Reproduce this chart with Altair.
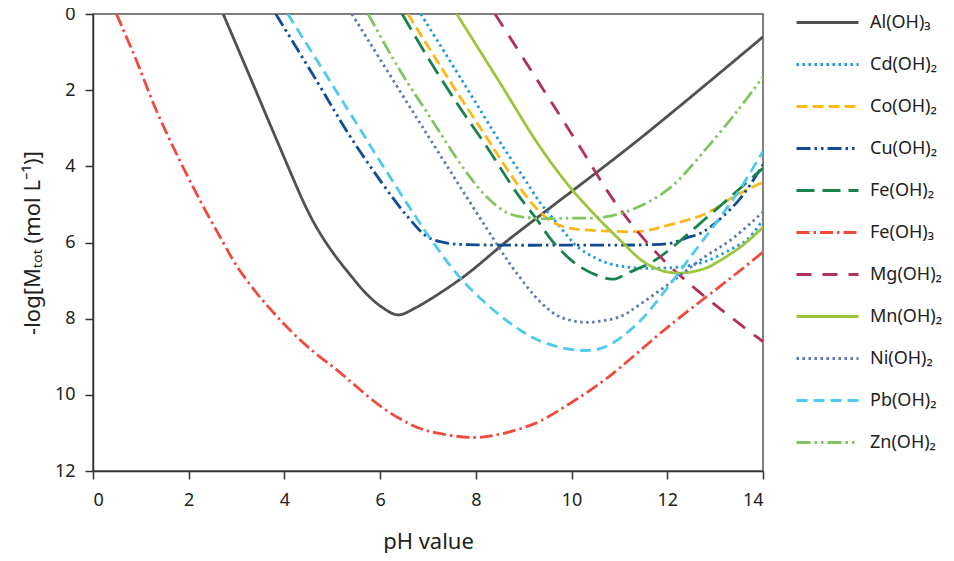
import altair as alt
import pandas as pd

SERIES = ["Al(OH)₃", "Cd(OH)₂", "Co(OH)₂", "Cu(OH)₂", "Fe(OH)₂", "Fe(OH)₃",
          "Mg(OH)₂", "Mn(OH)₂", "Ni(OH)₂", "Pb(OH)₂", "Zn(OH)₂"]
COLORS = ["#505050", "#1f9ad8", "#fbb918", "#0f4c92", "#17834b", "#ef4a3c",
          "#b0305f", "#9cc53b", "#5b79b6", "#4ec9ef", "#7fc65f"]
DASHES = [[1, 0], [2.5, 3.5], [11, 5], [14, 4, 2.5, 4, 2.5, 4], [18, 8], [13, 4, 2.5, 4],
          [15, 11], [1, 0], [2.5, 3.5], [11, 6], [14, 4, 2.5, 4, 2.5, 4]]

AL_PH = [2.72, 3.28, 3.87, 4.46, 4.74, 5.05, 5.33, 5.7, 6.04, 6.37, 6.73, 7.71, 8.68, 9.3, 11.39, 14]
AL_Y = [0, 1.65, 3.4, 5.1, 5.75, 6.33, 6.78, 7.33, 7.7, 7.9, 7.72, 6.93, 5.93, 5.33, 3.31, 0.6]

CD_PH = [6.85, 7.7, 8.57, 9.0, 9.34, 9.6, 9.93, 10.13, 10.7, 11.2, 11.64, 12.33, 12.79, 13.3, 13.69, 14]
CD_Y = [0, 1.72, 3.49, 4.3, 4.95, 5.35, 5.85, 6.12, 6.52, 6.65, 6.68, 6.63, 6.5, 6.2, 5.9, 5.4]

CO_PH = [6.58, 7.4, 8.3, 8.55, 9.03, 9.3, 9.55, 9.82, 10.11, 10.76, 11.49, 12.12, 12.79, 13.41, 14]
CO_Y = [0, 1.65, 3.39, 3.88, 4.75, 5.15, 5.42, 5.58, 5.65, 5.70, 5.70, 5.51, 5.25, 4.78, 4.41]

CU_PH = [3.82, 4.7, 5.33, 6.04, 6.58, 7.0, 7.42, 8.0, 10.0, 11.5, 12.06, 12.4, 12.75, 13.46, 14]
CU_Y = [0, 1.81, 3.13, 4.44, 5.33, 5.86, 6.02, 6.06, 6.07, 6.06, 6.02, 5.88, 5.72, 4.94, 3.96]

FE2_PH = [6.46, 6.99, 7.63, 8.23, 8.86, 9.26, 9.61, 10.13, 10.66, 10.9, 11.18, 11.7, 12.16, 12.73, 13.25, 13.77, 14]
FE2_Y = [0, 1.13, 2.39, 3.49, 4.71, 5.37, 5.98, 6.6, 6.92, 6.96, 6.8, 6.5, 6.07, 5.45, 4.88, 4.3, 4.05]

FE3_PH = [0.49, 0.9, 1.32, 1.74, 2.23, 2.72, 2.99, 3.34, 3.72, 4.18, 4.64, 5.1, 5.54, 6.04, 6.58,
          7.0, 7.95, 8.55, 9.09, 9.36, 10.0, 10.7, 12.08, 13.48, 14]
FE3_Y = [0, 1.2, 2.52, 3.66, 4.88, 6.0, 6.59, 7.2, 7.77, 8.38, 8.9, 9.35, 9.82, 10.33, 10.74,
         10.95, 11.12, 11.02, 10.82, 10.68, 10.2, 9.6, 8.15, 6.78, 6.25]

MG_PH = [8.4, 9.55, 10.18, 10.94, 11.78, 12.62, 13.87, 14]
MG_Y = [0, 2.26, 3.5, 5.0, 6.28, 7.25, 8.48, 8.6]

MN_PH = [7.6, 8.5, 9.34, 9.97, 10.53, 11.08, 11.5, 11.92, 12.33, 12.79, 13.04, 13.58, 14]
MN_Y = [0, 1.8, 3.49, 4.55, 5.33, 6.02, 6.5, 6.75, 6.8, 6.68, 6.52, 6.07, 5.6]

NI_PH = [5.41, 6.9, 8.37, 8.82, 9.34, 9.72, 10.2, 10.62, 11.03, 11.39, 12.08, 12.79, 13.33, 14]
NI_Y = [0, 3.0, 5.91, 6.75, 7.55, 7.93, 8.09, 8.06, 7.94, 7.66, 7.04, 6.37, 5.93, 5.2]

PB_PH = [4.07, 5.33, 6.04, 6.73, 7.08, 7.71, 8.55, 9.3, 10.13, 10.7, 11.39, 12.08, 12.5, 13.04, 13.52, 14]
PB_Y = [0, 2.52, 3.95, 5.3, 5.95, 6.98, 7.96, 8.56, 8.83, 8.74, 8.11, 7.06, 6.35, 5.45, 4.6, 3.6]

ZN_PH = [5.75, 6.37, 7.08, 7.77, 8.25, 8.67, 9.17, 9.99, 10.7, 11.39, 12.08, 12.79, 13.48, 14]
ZN_Y = [0, 1.39, 2.78, 4.10, 4.83, 5.23, 5.36, 5.36, 5.33, 5.07, 4.54, 3.57, 2.52, 1.65]

PHS = [AL_PH, CD_PH, CO_PH, CU_PH, FE2_PH, FE3_PH, MG_PH, MN_PH, NI_PH, PB_PH, ZN_PH]
YS = [AL_Y, CD_Y, CO_Y, CU_Y, FE2_Y, FE3_Y, MG_Y, MN_Y, NI_Y, PB_Y, ZN_Y]

X_TICKS = [0, 2, 4, 6, 8, 10, 12, 14]
Y_TICKS = [0, 2, 4, 6, 8, 10, 12]

rows = []
for name, xs, ys in zip(SERIES, PHS, YS):
    for i, (x, y) in enumerate(zip(xs, ys)):
        rows.append({"series": name, "ph": x, "v": y, "order": i})
df = pd.DataFrame(rows)

FONT = "Noto Sans"

chart = alt.Chart(df).mark_line(
    strokeWidth=2.8, strokeCap="butt", interpolate="catmull-rom", clip=True
).encode(
    x=alt.X("ph:Q", scale=alt.Scale(domain=[0, 14], nice=False),
            axis=alt.Axis(values=X_TICKS, title="pH value", labelPadding=12,
                          titlePadding=22)),
    y=alt.Y("v:Q", scale=alt.Scale(domain=[0, 12], reverse=True, nice=False),
            axis=alt.Axis(values=Y_TICKS, title="-log[Mₜₒₜ (mol L⁻¹)]",
                          labelPadding=10, titlePadding=10)),
    color=alt.Color("series:N", scale=alt.Scale(domain=SERIES, range=COLORS),
                    legend=alt.Legend(title=None)),
    strokeDash=alt.StrokeDash("series:N", scale=alt.Scale(domain=SERIES, range=DASHES),
                              legend=alt.Legend(title=None)),
    order="order:Q",
).properties(
    width=670, height=457,
    autosize=alt.AutoSizeParams(type="none"),
    padding={"left": 85, "top": 6, "right": 183, "bottom": 82},
).configure_view(
    stroke="#555555", strokeWidth=1.5
).configure_axis(
    grid=False, domainColor="#333333", domainWidth=1.5, tickColor="#333333",
    tickWidth=1.5, tickSize=8, labelFont=FONT, labelFontSize=18, labelColor="#222222",
    titleFont=FONT, titleFontSize=22, titleFontWeight="normal", titleColor="#222222"
).configure_legend(
    orient="none", legendX=702, legendY=-24, symbolType="stroke", symbolSize=3844,
    symbolStrokeWidth=2.8, labelFont=FONT, labelFontSize=18, labelColor="#222222",
    labelOffset=10, rowPadding=-4, padding=0
)

chart.save("out.html", embed_options={"renderer": "svg", "actions": False})
